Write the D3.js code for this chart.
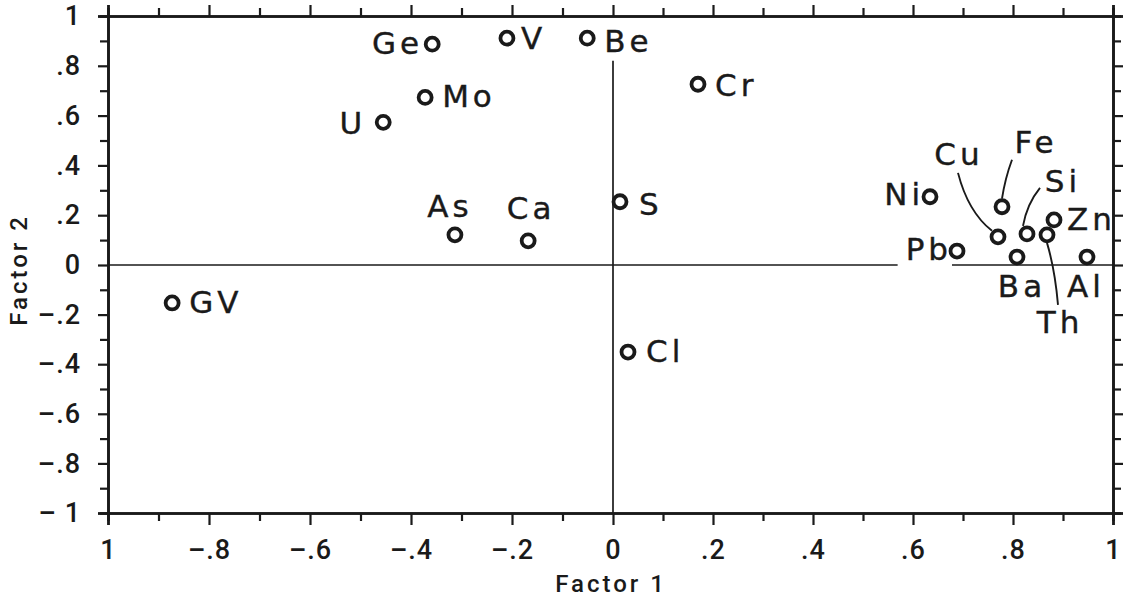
<!DOCTYPE html>
<html>
<head>
<meta charset="utf-8">
<script src="https://cdn.jsdelivr.net/npm/d3@7"></script>
<style>
  html, body { margin: 0; padding: 0; background: #fff; }
  svg { display: block; }
  .tick-label { font-family: Roboto, "DejaVu Sans", sans-serif; font-size: 27px; font-weight: 500; fill: #1a1a1a; letter-spacing: 1px; }
  .axis-title { font-family: Roboto, "DejaVu Sans", sans-serif; font-size: 24px; font-weight: 500; fill: #1a1a1a; letter-spacing: 3px; }
  .point-label { font-family: "DejaVu Sans", sans-serif; font-size: 31px; fill: #1a1a1a; letter-spacing: 4px; stroke: #1a1a1a; stroke-width: 0.4px; }
</style>
</head>
<body>
<svg id="chart"></svg>
<script>
const WIDTH = 1130
const HEIGHT = 602
const INK = '#1a1a1a'

// loadings
const elements = ['Ge', 'V', 'Be', 'Mo', 'U', 'Cr', 'As', 'Ca', 'S', 'GV', 'Cl',
                  'Ni', 'Cu', 'Fe', 'Si', 'Zn', 'Th', 'Pb', 'Ba', 'Al']
const factor1 = [-0.358, -0.21, -0.051, -0.372, -0.455, 0.17, -0.313, -0.168, 0.014, -0.873, 0.03,
                 0.634, 0.77, 0.778, 0.828, 0.882, 0.868, 0.688, 0.808, 0.948]
const factor2 = [0.887, 0.911, 0.911, 0.673, 0.573, 0.726, 0.121, 0.097, 0.254, -0.153, -0.351,
                 0.274, 0.113, 0.234, 0.125, 0.181, 0.121, 0.056, 0.032, 0.032]

const majorTicks = [-1, -0.8, -0.6, -0.4, -0.2, 0, 0.2, 0.4, 0.6, 0.8, 1]
const minorTicks = [-0.9, -0.7, -0.5, -0.3, -0.1, 0.1, 0.3, 0.5, 0.7, 0.9]
const xTickLabels = ['1', '\u2013.8', '\u2013.6', '\u2013.4', '\u2013.2', '0', '.2', '.4', '.6', '.8', '1']
const yTickLabels = ['\u2013 1', '\u2013.8', '\u2013.6', '\u2013.4', '\u2013.2', '0', '.2', '.4', '.6', '.8', '1']

// label placement around each marker (pixels from the marker centre)
const labelLayout = {
    Ge: { anchor: 'end', dx: -9, dy: 10 },
    V:  { anchor: 'start', dx: 14, dy: 11 },
    Be: { anchor: 'start', dx: 17, dy: 14 },
    Mo: { anchor: 'start', dx: 17, dy: 10 },
    U:  { anchor: 'end', dx: -17, dy: 12 },
    Cr: { anchor: 'start', dx: 17, dy: 12 },
    As: { anchor: 'middle', dx: -5, dy: -18 },
    Ca: { anchor: 'middle', dx: 3, dy: -22 },
    S:  { anchor: 'start', dx: 19, dy: 13 },
    GV: { anchor: 'start', dx: 17, dy: 10 },
    Cl: { anchor: 'start', dx: 18, dy: 10 },
    Ni: { anchor: 'end', dx: -6, dy: 8 },
    Zn: { anchor: 'start', dx: 13, dy: 10 },
    Pb: { anchor: 'end', dx: -5, dy: 9 },
    Ba: { anchor: 'middle', dx: 5, dy: 40 },
    Al: { anchor: 'middle', dx: -1, dy: 40 },
    Cu: { anchor: 'middle', dx: -39, dy: -72, leader: [[-6, -6], [-30, -25], [-40, -64]] },
    Fe: { anchor: 'middle', dx: 34, dy: -54, leader: [[0, -8], [3, -28], [10, -47]] },
    Si: { anchor: 'middle', dx: 36, dy: -42, leader: [[-4, -8], [0, -30], [13, -46]] },
    Th: { anchor: 'middle', dx: 13, dy: 98, leader: [[0, 8], [8, 35], [11, 70]] }
}

const points = elements.map((name, i) => ({ name, f1: factor1[i], f2: factor2[i] }))

const svg = d3.select('#chart').attr('width', WIDTH).attr('height', HEIGHT)
svg.append('rect').attr('width', WIDTH).attr('height', HEIGHT).attr('fill', '#fff')

// the scanned frame is a touch uneven, so the zero sits slightly right of centre
const x = d3.scaleLinear().domain([-1, 0, 1]).range([108, 613, 1113])
const y = d3.scaleLinear().domain([-1, 0, 1]).range([513, 265, 16])

drawAxes()
drawZeroLines()
drawPoints()
drawTitles()

function styleAxis(g) {
    g.select('.domain').attr('stroke', INK).attr('stroke-width', 2.6)
    g.selectAll('.tick line').attr('stroke', INK).attr('stroke-width', 2.2)
}

function drawAxes() {
    // minor ticks first, all four sides point outward
    const minors = [
        [d3.axisBottom(x), `translate(0,${y(-1)})`],
        [d3.axisTop(x), `translate(0,${y(1)})`],
        [d3.axisLeft(y), `translate(${x(-1)},0)`],
        [d3.axisRight(y), `translate(${x(1)},0)`]
    ]
    minors.forEach(([axis, tr]) => {
        svg.append('g').attr('transform', tr)
            .call(axis.tickValues(minorTicks).tickSize(8).tickFormat(''))
            .call(styleAxis)
    })

    svg.append('g').attr('transform', `translate(0,${y(-1)})`)
        .call(d3.axisBottom(x).tickValues(majorTicks).tickSize(12).tickPadding(15)
            .tickFormat((d, i) => xTickLabels[i]))
        .call(styleAxis)
        .selectAll('text').attr('class', 'tick-label').attr('fill', null)

    svg.append('g').attr('transform', `translate(0,${y(1)})`)
        .call(d3.axisTop(x).tickValues(majorTicks).tickSize(11).tickFormat(''))
        .call(styleAxis)

    svg.append('g').attr('transform', `translate(${x(-1)},0)`)
        .call(d3.axisLeft(y).tickValues(majorTicks).tickSize(10).tickPadding(17)
            .tickFormat((d, i) => yTickLabels[i]))
        .call(styleAxis)
        .selectAll('text').attr('class', 'tick-label').attr('fill', null)

    svg.append('g').attr('transform', `translate(${x(1)},0)`)
        .call(d3.axisRight(y).tickValues(majorTicks).tickSize(10).tickFormat(''))
        .call(styleAxis)
}

function drawZeroLines() {
    svg.append('line').attr('class', 'zero-v')
        .attr('x1', x(0)).attr('x2', x(0))
        .attr('y1', y(0.82)).attr('y2', y(-1))
        .attr('stroke', INK).attr('stroke-width', 1.7)
}

function drawPoints() {
    const labels = svg.append('g').attr('class', 'labels')
    const leaders = svg.append('g').attr('class', 'leaders')
    const markers = svg.append('g').attr('class', 'markers')

    points.forEach(p => {
        const px = x(p.f1)
        const py = y(p.f2)
        const lay = labelLayout[p.name]

        labels.append('text')
            .attr('class', 'point-label')
            .attr('id', 'label-' + p.name)
            .attr('x', px + lay.dx)
            .attr('y', py + lay.dy)
            .attr('text-anchor', lay.anchor)
            .text(p.name)

        if (lay.leader) {
            const [s, c, e] = lay.leader
            const path = d3.path()
            path.moveTo(px + s[0], py + s[1])
            path.quadraticCurveTo(px + c[0], py + c[1], px + e[0], py + e[1])
            leaders.append('path')
                .attr('d', path.toString())
                .attr('fill', 'none')
                .attr('stroke', INK)
                .attr('stroke-width', 1.9)
        }
    })

    // horizontal zero line, broken around the Pb label
    const pb = d3.select('#label-Pb').node().getBBox()
    const zeroH = svg.insert('g', '.labels').attr('class', 'zero-h')
    const segments = [[x(-1), pb.x - 8], [pb.x + pb.width, x(1)]]
    segments.forEach(([a, b]) => {
        zeroH.append('line')
            .attr('x1', a).attr('x2', b)
            .attr('y1', y(0)).attr('y2', y(0))
            .attr('stroke', INK).attr('stroke-width', 1.7)
    })

    markers.selectAll('circle')
        .data(points)
        .join('circle')
        .attr('cx', d => x(d.f1))
        .attr('cy', d => y(d.f2))
        .attr('r', 6.5)
        .attr('fill', '#fff')
        .attr('stroke', INK)
        .attr('stroke-width', 3.8)
}

function drawTitles() {
    svg.append('text')
        .attr('class', 'axis-title')
        .attr('x', 611)
        .attr('y', 592)
        .attr('text-anchor', 'middle')
        .text('Factor 1')

    svg.append('text')
        .attr('class', 'axis-title')
        .attr('transform', 'translate(27,270) rotate(-90)')
        .attr('text-anchor', 'middle')
        .text('Factor 2')
}
</script>
</body>
</html>
